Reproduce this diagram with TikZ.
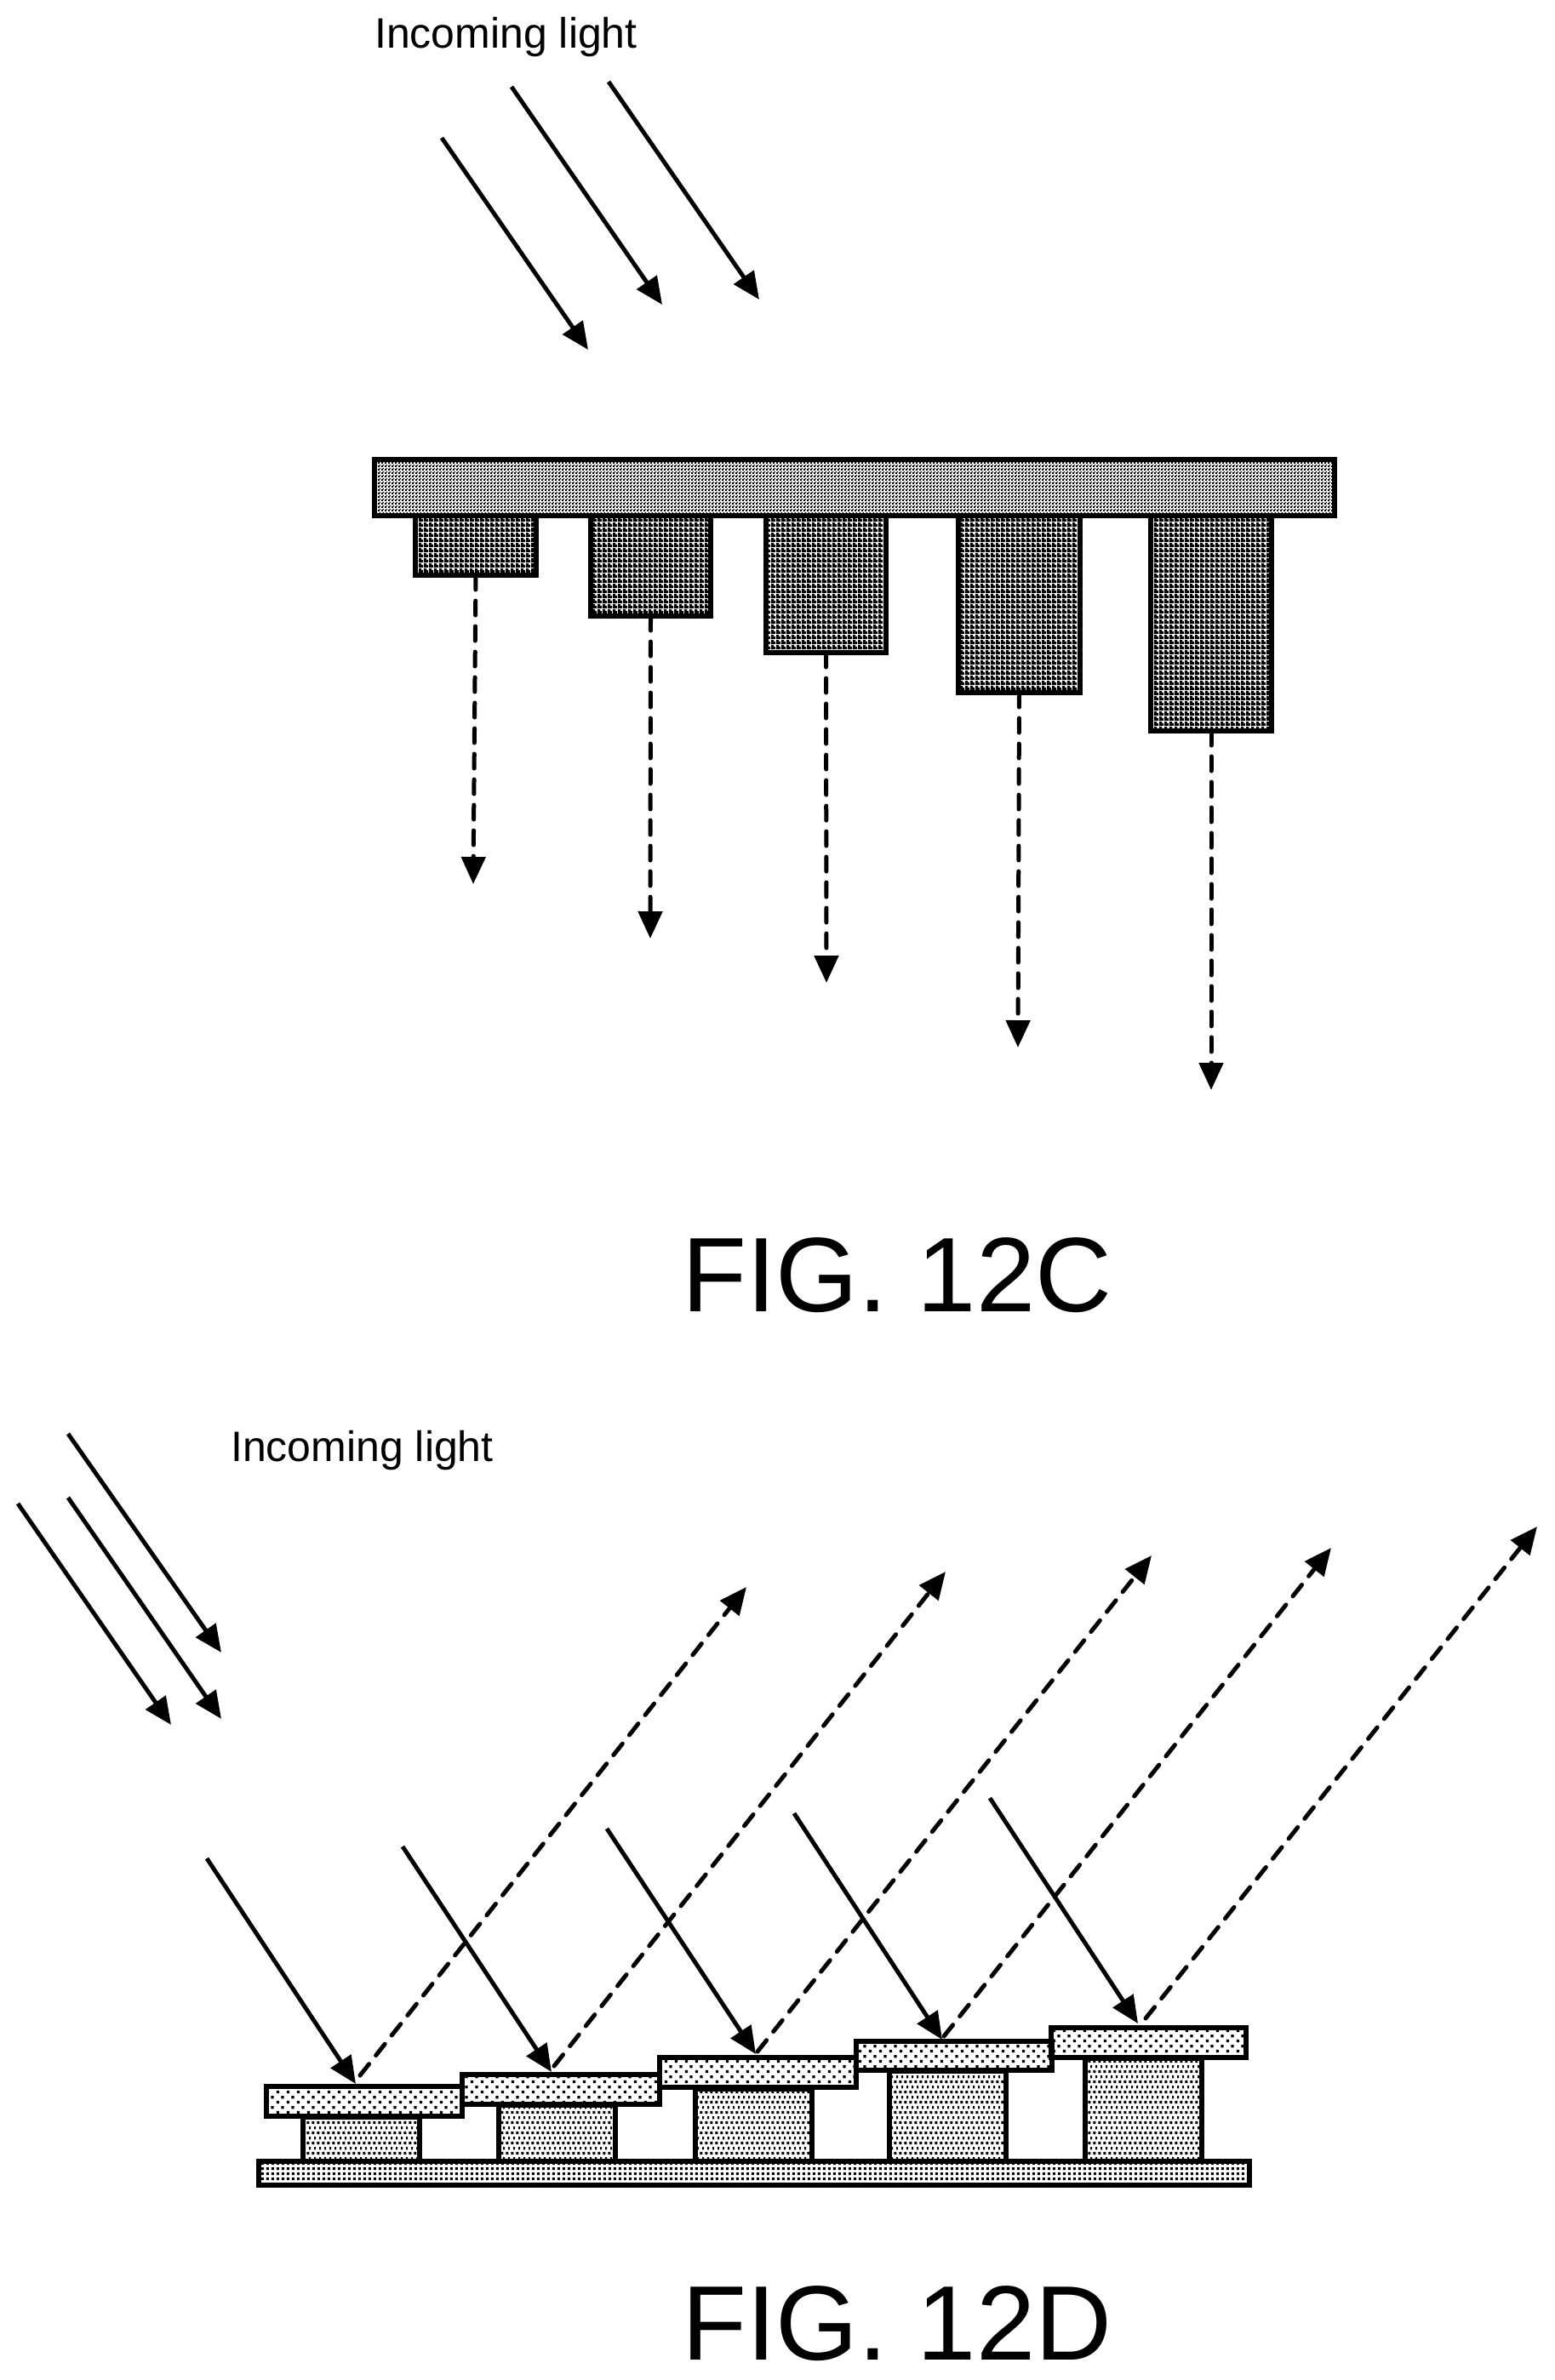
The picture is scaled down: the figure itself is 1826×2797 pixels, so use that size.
\documentclass[tikz,border=0pt]{standalone}
\usepackage{fontspec}
\setmainfont{Liberation Sans}
\usetikzlibrary{arrows.meta,patterns}
\pgfdeclarepatternformonly{chk}{\pgfqpoint{0pt}{0pt}}{\pgfqpoint{4pt}{4pt}}{\pgfqpoint{4pt}{4pt}}{%
  \pgfpathrectangle{\pgfqpoint{0pt}{0pt}}{\pgfqpoint{2.3pt}{2.3pt}}%
  \pgfpathrectangle{\pgfqpoint{2pt}{2pt}}{\pgfqpoint{2pt}{2pt}}%
  \pgfusepath{fill}}
\pgfdeclarepatternformonly{grid6}{\pgfqpoint{0pt}{0pt}}{\pgfqpoint{6pt}{6pt}}{\pgfqpoint{6pt}{6pt}}{%
  \pgfpathrectangle{\pgfqpoint{0pt}{0pt}}{\pgfqpoint{3.7pt}{6pt}}%
  \pgfpathrectangle{\pgfqpoint{3.7pt}{0pt}}{\pgfqpoint{2.3pt}{3.7pt}}%
  \pgfusepath{fill}}
\pgfdeclarepatternformonly{sparse}{\pgfqpoint{0pt}{0pt}}{\pgfqpoint{12pt}{12pt}}{\pgfqpoint{12pt}{12pt}}{%
  \pgfpathrectangle{\pgfqpoint{1pt}{1pt}}{\pgfqpoint{3.5pt}{3.5pt}}%
  \pgfpathrectangle{\pgfqpoint{7pt}{7pt}}{\pgfqpoint{3.5pt}{3.5pt}}%
  \pgfusepath{fill}}
\pgfdeclarepatternformonly{stag}{\pgfqpoint{0pt}{0pt}}{\pgfqpoint{6pt}{12pt}}{\pgfqpoint{6pt}{12pt}}{%
  \pgfpathrectangle{\pgfqpoint{0.5pt}{1pt}}{\pgfqpoint{3.5pt}{3.5pt}}%
  \pgfpathrectangle{\pgfqpoint{3.5pt}{7pt}}{\pgfqpoint{2.5pt}{3.5pt}}%
  \pgfusepath{fill}}
\pgfdeclarepatternformonly{basedots}{\pgfqpoint{0pt}{0pt}}{\pgfqpoint{6pt}{6pt}}{\pgfqpoint{6pt}{6pt}}{%
  \pgfpathrectangle{\pgfqpoint{1pt}{1pt}}{\pgfqpoint{3.5pt}{3.5pt}}%
  \pgfusepath{fill}}
\tikzset{
  box/.style n args={4}{draw=black,line width=5.5pt,rectangle,inner sep=0pt,outer sep=0pt,anchor=north west,
    minimum width=#3-#1,minimum height=#4-#2},
  barpat/.style={pattern=chk},
  postpat/.style={pattern=grid6},
  platepat/.style={pattern=sparse},
  pedpat/.style={pattern=stag},
  basepat/.style={pattern=basedots},
  solidarrow/.style={line width=5pt,-{Triangle[length=32pt,width=28pt]}},
  dasharrow/.style={line width=5pt,line cap=round,dash pattern=on 17pt off 13pt,-{Triangle[length=32pt,width=28pt]}},
  smalltext/.style={font=\fontsize{50pt}{50pt}\selectfont,anchor=base west,inner sep=0pt},
  bigtext/.style={font=\fontsize{124.5pt}{124.5pt}\selectfont,anchor=base west,inner sep=0pt},
}
\begin{document}
\begin{tikzpicture}[x=1pt,y=-1pt]
\useasboundingbox (0,0) rectangle (1826,2797);
\fill[white] (0,0) rectangle (1826,2797);
% FIG 12C
\node[smalltext] (t1) at (440,56) {Incoming light};
\coordinate (a1s) at (519,162); \coordinate (a1e) at (691,411);
\coordinate (a2s) at (601,102); \coordinate (a2e) at (778,358);
\coordinate (a3s) at (715,96);  \coordinate (a3e) at (892,352);
\draw[solidarrow] (a1s) -- (a1e);
\draw[solidarrow] (a2s) -- (a2e);
\draw[solidarrow] (a3s) -- (a3e);
\node[box={488}{606}{630}{676},postpat] (p1) at (488,606) {};
\node[box={694}{606}{835}{724},postpat] (p2) at (694,606) {};
\node[box={900}{606}{1041}{767},postpat] (p3) at (900,606) {};
\node[box={1126}{606}{1269}{814},postpat] (p4) at (1126,606) {};
\node[box={1352}{606}{1494}{859},postpat] (p5) at (1352,606) {};
\node[box={440}{540}{1568}{606},barpat] (bar) at (440,540) {};
\coordinate (d1) at (556,1039);
\coordinate (d2) at (764,1103);
\coordinate (d3) at (971,1155);
\coordinate (d4) at (1196,1231);
\coordinate (d5) at (1423,1281);
\draw[dasharrow] (p1.south) -- (d1);
\draw[dasharrow] (p2.south) -- (d2);
\draw[dasharrow] (p3.south) -- (d3);
\draw[dasharrow] (p4.south) -- (d4);
\draw[dasharrow] (p5.south) -- (d5);
\node[bigtext] (c) at (801,1541) {FIG. 12C};
% FIG 12D
\node[smalltext] (t2) at (271,1717) {Incoming light};
\coordinate (b1s) at (80,1685);  \coordinate (b1e) at (260,1942);
\coordinate (b2s) at (80,1760);  \coordinate (b2e) at (260,2020);
\coordinate (b3s) at (21,1767);  \coordinate (b3e) at (201,2027);
\draw[solidarrow] (b1s) -- (b1e);
\draw[solidarrow] (b2s) -- (b2e);
\draw[solidarrow] (b3s) -- (b3e);
\node[box={356}{2488}{493}{2540},pedpat] (q1) at (356,2488) {};
\node[box={586}{2474}{723}{2540},pedpat] (q2) at (586,2474) {};
\node[box={817}{2455}{954}{2540},pedpat] (q3) at (817,2455) {};
\node[box={1045}{2434}{1182}{2540},pedpat] (q4) at (1045,2434) {};
\node[box={1275}{2419}{1412}{2540},pedpat] (q5) at (1275,2419) {};
\node[box={304}{2540}{1468}{2568},basepat] (base) at (304,2540) {};
\node[box={313}{2452}{543}{2487},platepat] (r1) at (313,2452) {};
\node[box={543}{2438}{775}{2473},platepat] (r2) at (543,2438) {};
\node[box={775}{2418}{1006}{2453},platepat] (r3) at (775,2418) {};
\node[box={1006}{2399}{1236}{2433},platepat] (r4) at (1006,2399) {};
\node[box={1235}{2383}{1464}{2418},platepat] (r5) at (1235,2383) {};
\coordinate (s1) at (243,2184);  \coordinate (s2) at (473,2170);
\coordinate (s3) at (713,2149);  \coordinate (s4) at (933,2131);
\coordinate (s5) at (1163,2113);
\coordinate (e1) at (418,2449);  \coordinate (e2) at (648,2435);
\coordinate (e3) at (888,2414);  \coordinate (e4) at (1107,2397);
\coordinate (e5) at (1337,2378);
\draw[solidarrow] (s1) -- (e1);
\draw[solidarrow] (s2) -- (e2);
\draw[solidarrow] (s3) -- (e3);
\draw[solidarrow] (s4) -- (e4);
\draw[solidarrow] (s5) -- (e5);
\coordinate (u1) at (423,2439);  \coordinate (v1) at (877,1865);
\coordinate (u2) at (651,2428);  \coordinate (v2) at (1111,1847);
\coordinate (u3) at (890,2411);  \coordinate (v3) at (1353,1828);
\coordinate (u4) at (1109,2393); \coordinate (v4) at (1564,1819);
\coordinate (u5) at (1346,2372); \coordinate (v5) at (1806,1794);
\draw[dasharrow] (u1) -- (v1);
\draw[dasharrow] (u2) -- (v2);
\draw[dasharrow] (u3) -- (v3);
\draw[dasharrow] (u4) -- (v4);
\draw[dasharrow] (u5) -- (v5);
\node[bigtext] (d) at (801,2773) {FIG. 12D};
\end{tikzpicture}
\end{document}
